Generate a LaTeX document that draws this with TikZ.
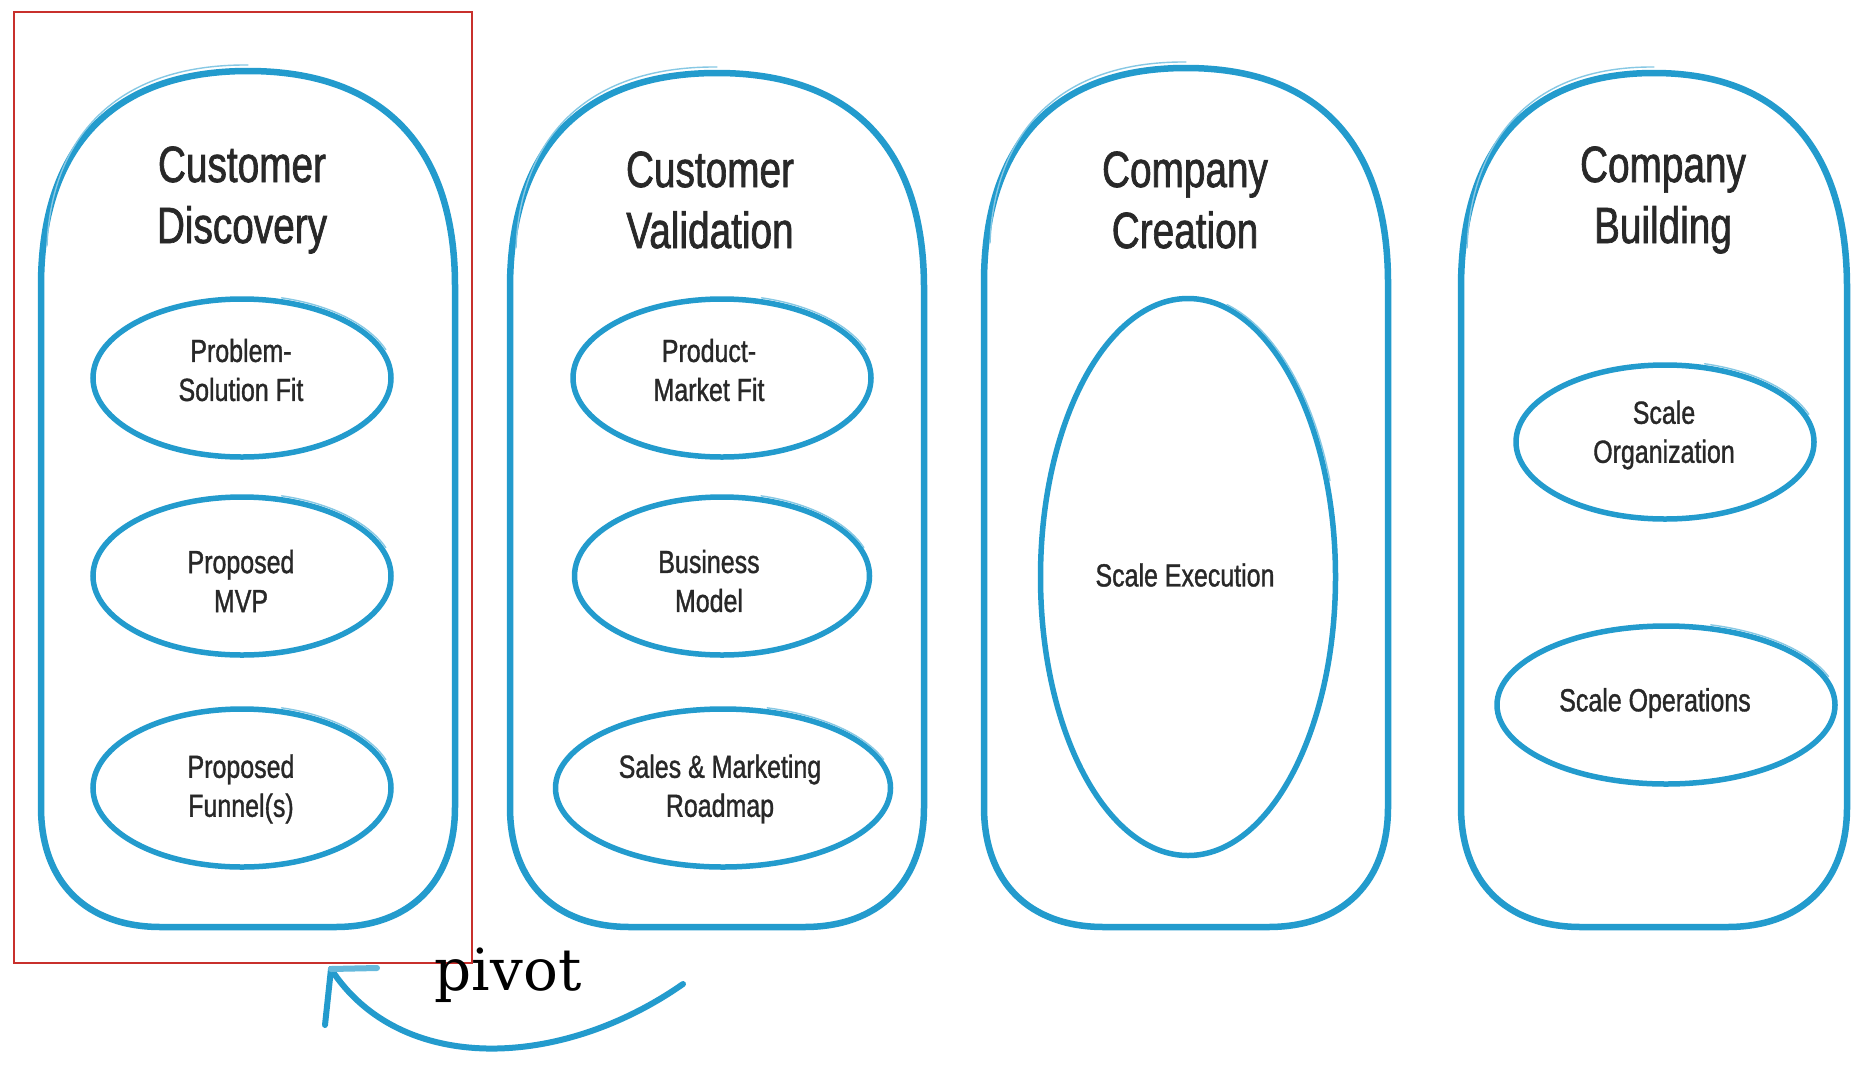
\documentclass[tikz,border=0pt]{standalone}
\usepackage{fontspec}
\setmainfont{Liberation Sans}[FakeStretch=0.78]
\newfontfamily\headfont{Liberation Sans}[FakeStretch=0.76,FakeBold=1.3]
\newfontfamily\labelfont{Liberation Sans}[FakeStretch=0.78,FakeBold=1.1]
\newfontfamily\pivotfont{DejaVu Serif}
\usetikzlibrary{shapes.geometric,calc}

\definecolor{sketchblue}{RGB}{35,155,205}
\definecolor{inkgray}{RGB}{40,40,40}
\definecolor{frame}{RGB}{200,48,44}

\tikzset{
  pill/.style={draw=sketchblue, line width=6.5pt, line join=round},
  ring/.style={ellipse, draw=sketchblue, line width=5.5pt, inner sep=0pt},
  lbl/.style={align=center, text=inkgray, font=\labelfont\fontsize{32}{39}\selectfont},
  title/.style={align=center, text=inkgray, font=\headfont\fontsize{51}{61}\selectfont},
  tail/.style={draw=sketchblue!55, line width=1.4pt, line cap=round},
  pivotline/.style={draw=sketchblue, line width=6pt, line cap=round}
}

% outer stage outline: broad arched top, rounded lower corners
% #1 left, #2 right, #3 top row, #4 bottom row (rows counted downward)
\newcommand\stageoutline[4]{%
  \pgfmathsetmacro\cx{(#1+#2)/2}%
  \pgfmathsetmacro\kx{0.65*(#2-#1)/2}%
  \pgfmathsetmacro\ya{-(#3+215)}%
  \pgfmathsetmacro\yb{-(#3+75)}%
  \pgfmathsetmacro\yc{-(#4-120)}%
  \pgfmathsetmacro\yd{-(#4-45)}%
  \draw[pill] (#1,\ya) .. controls (#1,\yb) and (\cx-\kx,-#3) .. (\cx,-#3)
    .. controls (\cx+\kx,-#3) and (#2,\yb) .. (#2,\ya)
    -- (#2,\yc) .. controls (#2,\yd) and (#2-45,-#4) .. (#2-120,-#4)
    -- (#1+120,-#4) .. controls (#1+45,-#4) and (#1,\yd) .. (#1,\yc) -- cycle;
  \draw[tail] (#1+6,\ya+40) .. controls (#1+10,\yb+6) and (\cx-\kx,-#3+7) .. (\cx,-#3+6);
}

% loose pen stroke along the upper right of an inner ellipse
\newcommand\penstroke[3]{%
  \draw[tail] ([shift={(75:{#2} and {#3})}]#1.center)
    arc[start angle=75,end angle=20,x radius=#2,y radius=#3];
}

\begin{document}
\begin{tikzpicture}[x=1pt,y=1pt]
\useasboundingbox[fill=white] (0,0) rectangle (1852,-1066);

% stage outlines
\stageoutline{41}{455}{71}{927}
\stageoutline{510}{924}{73}{927}
\stageoutline{984}{1388}{68}{927}
\stageoutline{1461}{1847}{73}{927}

% stage titles
\node[title] (t1) at (242,-200) {Customer\\Discovery};
\node[title] (t2) at (710,-200) {Customer\\Validation};
\node[title] (t3) at (1185,-200) {Company\\Creation};
\node[title] (t4) at (1663,-200) {Company\\Building};

% Customer Discovery
\node[ring, minimum width=298pt, minimum height=158pt] (e11) at (242,-378) {};
\node[ring, minimum width=298pt, minimum height=158pt] (e12) at (242,-576) {};
\node[ring, minimum width=298pt, minimum height=158pt] (e13) at (242,-788) {};
\node[lbl] (l11) at (241,-370) {Problem-\\Solution Fit};
\node[lbl] (l12) at (241,-581) {Proposed\\MVP};
\node[lbl] (l13) at (241,-789) {Proposed\\Funnel(s)};
\penstroke{e11}{153}{83}
\penstroke{e12}{153}{83}
\penstroke{e13}{153}{83}

% Customer Validation
\node[ring, minimum width=298pt, minimum height=158pt] (e21) at (722,-378) {};
\node[ring, minimum width=295pt, minimum height=158pt] (e22) at (722,-576) {};
\node[ring, minimum width=335pt, minimum height=158pt] (e23) at (723,-788) {};
\node[lbl] (l21) at (709,-370) {Product-\\Market Fit};
\node[lbl] (l22) at (709,-581) {Business\\Model};
\node[lbl] (l23) at (720,-789) {Sales \& Marketing\\Roadmap};
\penstroke{e21}{153}{83}
\penstroke{e22}{151}{83}
\penstroke{e23}{171}{83}

% Company Creation
\node[ring, minimum width=295pt, minimum height=557pt] (e31) at (1188,-577) {};
\node[lbl] (l31) at (1185,-575) {Scale Execution};
\penstroke{e31}{151}{282}

% Company Building
\node[ring, minimum width=298pt, minimum height=154pt] (e41) at (1665,-442) {};
\node[ring, minimum width=338pt, minimum height=158pt] (e42) at (1666,-705) {};
\node[lbl] (l41) at (1664,-435) {Scale\\Organization};
\node[lbl] (l42) at (1655,-703) {Scale Operations};
\penstroke{e41}{153}{81}
\penstroke{e42}{173}{83}

% highlight frame around the first stage
\draw[frame, line width=2.8pt] (14,-12) rectangle (472,-963);

% pivot loop back to discovery
\node[anchor=base, text=black, font=\pivotfont\fontsize{58}{60}\selectfont] (pv) at (508,-990) {pivot};
\coordinate (pivstart) at (683,-984);
\coordinate (pivtip) at (331,-969);
\draw[pivotline] (pivstart) .. controls (560,-1070) and (400,-1075) .. (pivtip);
\draw[pivotline] (pivtip) -- ++(-6,-56);
\draw[pivotline, draw=sketchblue!70] (pivtip) -- ++(46,1);
\end{tikzpicture}
\end{document}
